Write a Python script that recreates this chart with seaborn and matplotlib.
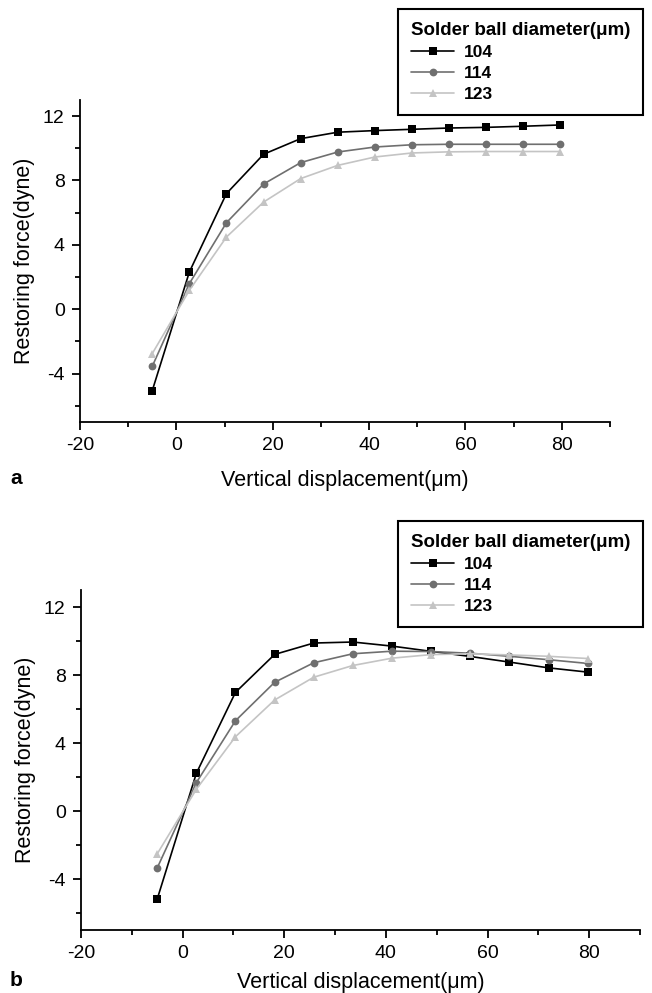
import numpy as np
import pandas as pd
import matplotlib
matplotlib.use("Agg")
import matplotlib.pyplot as plt
from matplotlib.ticker import MultipleLocator
import seaborn as sns

# ---- data ----
displacement = [-5, 2.7, 10.4, 18.1, 25.8, 33.5, 41.2, 48.9, 56.6, 64.3, 72.0, 79.7]
diameters = ["104", "114", "123"]

a_104 = [-5.05, 2.32, 7.19, 9.63, 10.60, 11.00, 11.10, 11.18, 11.26, 11.30, 11.37, 11.45]
a_114 = [-3.54, 1.60, 5.38, 7.78, 9.11, 9.77, 10.08, 10.22, 10.25, 10.25, 10.25, 10.25]
a_123 = [-2.75, 1.18, 4.49, 6.66, 8.12, 8.94, 9.46, 9.71, 9.78, 9.80, 9.80, 9.80]

b_104 = [-5.18, 2.22, 6.98, 9.21, 9.88, 9.94, 9.70, 9.39, 9.09, 8.76, 8.42, 8.17]
b_114 = [-3.35, 1.67, 5.31, 7.57, 8.72, 9.25, 9.40, 9.38, 9.28, 9.10, 8.90, 8.68]
b_123 = [-2.52, 1.28, 4.37, 6.53, 7.87, 8.56, 8.99, 9.20, 9.25, 9.18, 9.10, 8.97]

x_ticks = [-20, 0, 20, 40, 60, 80]
y_ticks = [-4, 0, 4, 8, 12]

sns.set_style("ticks")
plt.rcParams['font.family'] = ['Liberation Sans', 'DejaVu Sans']
plt.rcParams['axes.unicode_minus'] = False
plt.rcParams['text.color'] = 'black'
plt.rcParams['axes.labelcolor'] = 'black'
plt.rcParams['xtick.color'] = 'black'
plt.rcParams['ytick.color'] = 'black'

palette = {"104": "#000000", "114": "#6f6f6f", "123": "#c4c4c4"}
markers = {"104": "s", "114": "o", "123": "^"}


def make_df(series):
    rows = []
    for d, vals in zip(diameters, series):
        for xv, yv in zip(displacement, vals):
            rows.append({"x": xv, "y": yv, "d": d})
    return pd.DataFrame(rows)


fig = plt.figure(figsize=(6.52, 9.93), dpi=100)
W, H = 652, 993

def px_axes(l, r, t, b):
    return fig.add_axes([l / W, 1 - b / H, (r - l) / W, (b - t) / H])

ax_a = px_axes(80, 610, 100, 422)
ax_b = px_axes(81, 640, 590, 930)

panels = [(ax_a, [a_104, a_114, a_123], 9, 11.5), (ax_b, [b_104, b_114, b_123], 521, 7)]

for ax, series, leg_top, xpad in panels:
    df = make_df(series)
    sns.lineplot(data=df, x="x", y="y", hue="d", style="d", palette=palette,
                 markers=markers, dashes=False, markersize=5.6, linewidth=1.2,
                 markeredgewidth=0, ax=ax, legend=True, sort=False)
    ax.set_xlim(-20, 90)
    ax.set_ylim(-7, 13)
    ax.set_xticks(x_ticks)
    ax.set_yticks(y_ticks)
    ax.xaxis.set_minor_locator(MultipleLocator(10))
    ax.yaxis.set_minor_locator(MultipleLocator(2))
    ax.tick_params(which="major", direction="out", length=6, width=1.3,
                   labelsize=14, pad=5, color="black", labelcolor="black")
    ax.tick_params(which="minor", direction="out", length=3.5, width=1.3, color="black")
    for s in ["top", "right"]:
        ax.spines[s].set_visible(False)
    for s in ["left", "bottom"]:
        ax.spines[s].set_linewidth(1.3)
        ax.spines[s].set_color("black")
    ax.set_xlabel("Vertical displacement(\u03bcm)", fontsize=15.5, labelpad=xpad, color="black")
    ax.set_ylabel("Restoring force(dyne)", fontsize=15.5, labelpad=6, color="black")
    ax.set_facecolor("white")

    handles, labels = ax.get_legend_handles_labels()
    ax.get_legend().remove()
    leg = ax.legend(handles, labels, title="Solder ball diameter(\u03bcm)",
                    loc="upper left", bbox_to_anchor=(398 / W, 1 - leg_top / H),
                    bbox_transform=fig.transFigure, frameon=True, fancybox=False,
                    edgecolor="black", framealpha=1, borderpad=0.75,
                    labelspacing=0.33, handlelength=2.5, handletextpad=0.55,
                    borderaxespad=0, prop={"weight": "bold", "size": 12.5},
                    title_fontproperties={"weight": "bold", "size": 13.5},
                    labelcolor="black")
    leg.get_title().set_color("black")
    leg._legend_box.align = "left"
    leg.get_frame().set_linewidth(1.5)

fig.text(16 / W, 1 - 478 / H, "a", fontsize=15, fontweight="bold", ha="center", va="center", color="black")
fig.text(16 / W, 1 - 980 / H, "b", fontsize=15, fontweight="bold", ha="center", va="center", color="black")

fig.savefig("out.png", dpi=100, facecolor="white")
